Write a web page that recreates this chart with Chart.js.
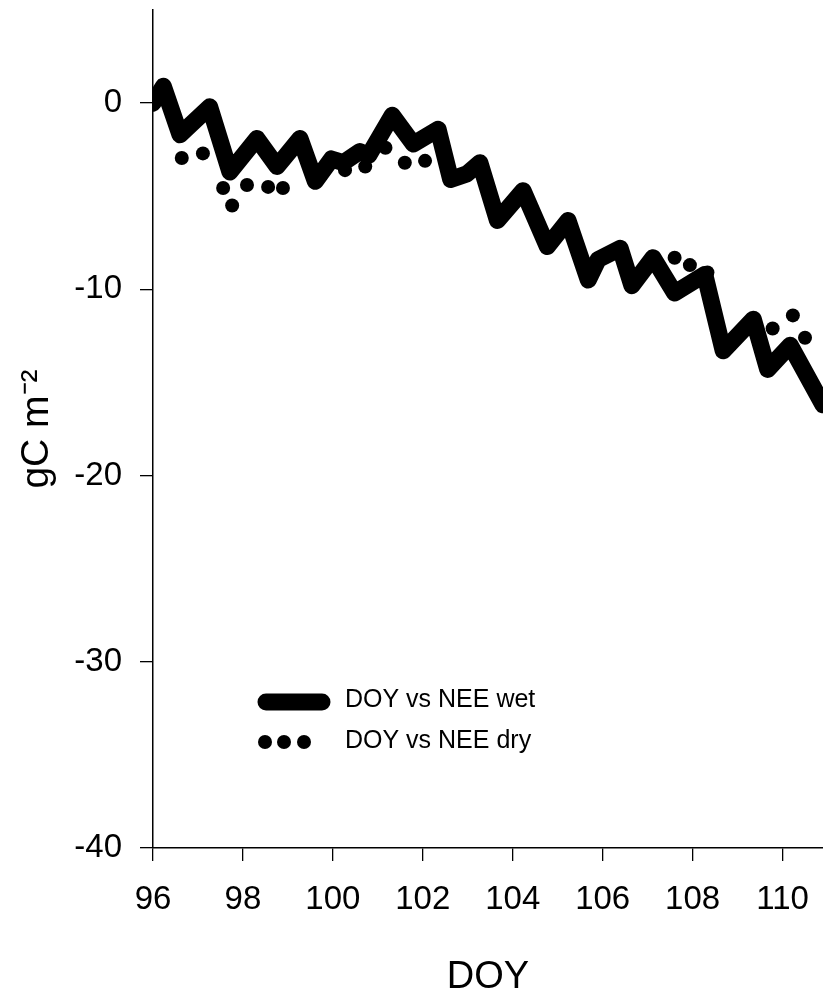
<!DOCTYPE html>
<html>
<head>
<meta charset="utf-8">
<title>DOY vs NEE</title>
<script src="https://cdn.jsdelivr.net/npm/chart.js@4/dist/chart.umd.min.js"></script>
<style>
  html, body { margin: 0; padding: 0; background: #fff; }
  #wrap { width: 823px; height: 1000px; position: relative; }
</style>
</head>
<body>
<div id="wrap"><canvas id="chart-nee"></canvas></div>
<script>
// day of year, cumulative NEE (gC m-2)
const wetDoy = [96.0, 96.23, 96.6, 97.26, 97.71, 98.31, 98.76, 99.27, 99.61, 99.97, 100.23, 100.6, 100.8,
  101.32, 101.79, 102.34, 102.62, 102.98, 103.27, 103.66, 104.23, 104.77, 105.23, 105.68, 105.9, 106.39,
  106.65, 107.12, 107.6, 108.27, 108.68, 109.35, 109.67, 110.17, 110.9];
const wetNee = [0, 0.9, -1.7, -0.2, -3.7, -1.9, -3.4, -1.9, -4.2, -3.0, -3.2, -2.6, -2.8,
  -0.65, -2.2, -1.4, -4.1, -3.8, -3.2, -6.3, -4.7, -7.7, -6.3, -9.5, -8.4, -7.8,
  -9.8, -8.3, -10.2, -9.2, -13.3, -11.6, -14.3, -13.0, -16.2];

const dryDoy = [96.64, 97.11, 97.56, 97.76, 98.09, 98.56, 98.89, 100.27, 100.72, 101.17, 101.6, 102.05,
  107.6, 107.94, 108.33, 109.78, 110.23, 110.5];
const dryNee = [-2.95, -2.7, -4.56, -5.5, -4.4, -4.5, -4.56, -3.6, -3.4, -2.4, -3.2, -3.1,
  -8.3, -8.7, -9.1, -12.1, -11.4, -12.6];

const doyTicks = [96, 98, 100, 102, 104, 106, 108, 110];
const neeTicks = [-40, -30, -20, -10, 0];
const seriesNames = ["DOY vs NEE wet", "DOY vs NEE dry"];

const FONT = "'Liberation Sans Narrow', 'Arial Narrow', 'Liberation Sans', Arial, sans-serif";
Chart.defaults.font.family = FONT;
Chart.defaults.color = "#000";

// hand-drawn legend in the style of the original (thick line / row of dots)
const sketchLegend = {
  id: "sketchLegend",
  afterDraw(chart) {
    const ctx = chart.ctx;
    ctx.save();
    ctx.fillStyle = "#000";
    ctx.strokeStyle = "#000";
    ctx.lineCap = "round";
    ctx.lineWidth = 17;
    ctx.beginPath();
    ctx.moveTo(266, 702);
    ctx.lineTo(322, 702);
    ctx.stroke();
    [265, 284, 304].forEach((x) => {
      ctx.beginPath();
      ctx.arc(x, 742, 7, 0, Math.PI * 2);
      ctx.fill();
    });
    ctx.font = "25px " + FONT;
    ctx.textBaseline = "middle";
    ctx.fillText(seriesNames[0], 345, 700);
    ctx.fillText(seriesNames[1], 345, 741);
    ctx.restore();
  },
};

new Chart(document.getElementById("chart-nee"), {
  type: "line",
  data: {
    datasets: [
      {
        label: seriesNames[0],
        data: wetDoy.map((d, i) => ({ x: d, y: wetNee[i] })),
        borderColor: "#000",
        borderWidth: 17,
        borderJoinStyle: "round",
        borderCapStyle: "round",
        pointRadius: 0,
        tension: 0,
      },
      {
        label: seriesNames[1],
        data: dryDoy.map((d, i) => ({ x: d, y: dryNee[i] })),
        showLine: false,
        pointRadius: 7,
        pointBackgroundColor: "#000",
        pointBorderWidth: 0,
      },
    ],
  },
  options: {
    responsive: true,
    maintainAspectRatio: false,
    animation: false,
    layout: { autoPadding: false, padding: { left: 0, right: 0, top: 10, bottom: 0 } },
    plugins: { legend: { display: false }, tooltip: { enabled: false } },
    scales: {
      x: {
        type: "linear",
        min: 96,
        max: 110.9,
        afterBuildTicks: (s) => { s.ticks = doyTicks.map((v) => ({ value: v })); },
        afterFit: (s) => { s.height = 152; },
        // tall line box pushes labels down without widening the right padding
        ticks: { font: { size: 33, lineHeight: 2.1 }, padding: 4, maxRotation: 0 },
        grid: { drawOnChartArea: false, tickLength: 13, color: "#000", lineWidth: 1.3 },
        border: { color: "#000", width: 1.5 },
        title: { display: true, text: "DOY", font: { size: 38 }, padding: { top: 0, bottom: 0 } },
      },
      y: {
        min: -40,
        max: 5,
        afterBuildTicks: (s) => { s.ticks = neeTicks.map((v) => ({ value: v })); },
        afterFit: (s) => { s.width = 153; s.paddingTop = 0; s.paddingBottom = 0; },
        ticks: { font: { size: 33 }, padding: 18 },
        grid: { drawOnChartArea: false, tickLength: 13, color: "#000", lineWidth: 1.3 },
        border: { color: "#000", width: 1.5 },
        title: { display: true, text: "gC m\u207B\u00B2", font: { size: 39 }, padding: { top: 14, bottom: 0 } },
      },
    },
  },
  plugins: [sketchLegend],
});
</script>
</body>
</html>
